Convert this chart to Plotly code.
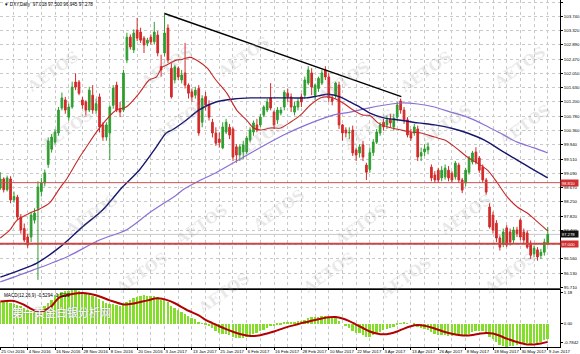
import pandas as pd
import plotly.graph_objects as go

# ---------------- data ----------------
holidays = ["2016-12-26", "2017-01-02", "2017-04-14"]
dates = [d for d in pd.bdate_range("2016-10-25", "2017-06-09")
         if d.strftime("%Y-%m-%d") not in holidays]
bar_idx = list(range(len(dates)))

opens = [98.65, 98.92, 98.60, 98.92, 98.30, 98.38, 97.79, 97.45, 97.20, 97.20,
         97.70, 98.05, 98.55, 98.80, 99.35, 99.80, 100.01, 100.28, 101.02, 101.26,
         100.75, 101.05, 101.79, 101.79, 101.26, 101.20, 100.96, 101.40, 100.95, 101.35,
         100.52, 100.16, 100.28, 101.10, 101.70, 101.00, 100.96, 102.44, 103.12, 102.74,
         103.33, 103.27, 103.09, 102.94, 103.12, 102.98, 103.18, 102.25, 102.65, 103.39,
         102.20, 101.85, 102.20, 101.85, 102.06, 101.70, 101.50, 101.40, 101.60, 100.60,
         101.36, 101.11, 100.60, 100.28, 100.10, 99.84, 100.31, 100.45, 100.40, 99.87,
         99.63, 99.72, 99.72, 100.07, 100.31, 100.52, 100.52, 100.81, 100.96, 101.32,
         100.90, 100.67, 100.87, 101.05, 101.46, 101.35, 100.90, 101.05, 101.35, 101.40,
         101.76, 102.06, 101.40, 101.60, 101.76, 102.15, 101.94, 101.30, 101.40, 101.70,
         100.52, 100.37, 100.28, 100.37, 99.78, 99.69, 99.93, 99.33, 99.20, 99.70,
         100.01, 100.28, 100.60, 100.52, 100.70, 100.46, 100.75, 101.23, 100.96, 100.67,
         100.28, 100.28, 100.40, 99.60, 99.72, 99.78, 99.27, 99.04, 99.18, 98.95,
         98.98, 99.18, 99.09, 98.98, 99.33, 98.89, 98.80, 99.12, 99.42, 99.72,
         99.54, 99.27, 98.89, 98.09, 97.85, 97.61, 97.17, 96.98, 97.47, 97.35,
         97.11, 97.41, 97.70, 97.35, 97.32, 97.02, 96.70, 96.82, 96.65, 96.75,
         97.02]
highs = [99.12, 98.97, 99.02, 99.00, 98.55, 98.45, 97.88, 97.60, 97.30, 97.95,
         98.05, 98.85, 98.95, 99.20, 100.15, 100.25, 100.40, 101.05, 101.48, 101.35,
         101.15, 101.80, 102.05, 101.85, 101.35, 101.25, 101.65, 101.70, 101.30, 101.45,
         100.60, 100.60, 101.10, 101.70, 101.80, 101.20, 102.15, 103.25, 103.20, 103.35,
         103.69, 103.40, 103.15, 103.10, 103.20, 103.57, 103.30, 102.60, 103.82, 103.50,
         102.35, 102.30, 102.25, 102.15, 102.95, 101.75, 101.60, 101.65, 101.70, 101.40,
         101.50, 101.25, 100.70, 100.45, 100.30, 100.60, 100.70, 100.55, 100.45, 99.95,
         99.95, 100.05, 100.20, 100.45, 100.65, 100.70, 100.85, 101.10, 101.30, 101.76,
         100.95, 101.05, 101.05, 101.55, 101.60, 101.45, 101.20, 101.30, 101.45, 101.95,
         102.26, 102.20, 101.75, 101.95, 102.15, 102.26, 102.05, 101.40, 101.80, 101.80,
         100.55, 100.45, 100.45, 100.50, 99.85, 99.95, 100.05, 99.40, 99.85, 100.10,
         100.40, 100.60, 100.70, 100.80, 100.85, 100.85, 101.20, 101.30, 101.05, 100.75,
         100.40, 100.55, 100.50, 99.85, 99.95, 100.00, 99.35, 99.15, 99.25, 99.30,
         99.35, 99.30, 99.15, 99.45, 99.40, 98.95, 99.25, 99.60, 99.75, 99.86,
         99.60, 99.35, 98.95, 98.20, 97.95, 97.70, 97.25, 97.45, 97.55, 97.45,
         97.50, 97.50, 97.75, 97.45, 97.40, 97.10, 96.95, 96.90, 96.85, 97.15,
         97.50]
lows = [98.60, 98.52, 98.55, 98.20, 98.22, 97.70, 97.30, 97.05, 96.88, 97.05,
        97.60, 95.93, 98.40, 98.70, 99.25, 99.70, 99.95, 100.20, 100.95, 100.85,
        100.65, 101.00, 101.55, 101.40, 101.00, 100.80, 100.90, 100.85, 100.85, 100.30,
        100.05, 100.05, 99.48, 101.00, 100.90, 100.75, 100.90, 102.35, 102.75, 102.65,
        103.00, 102.95, 102.65, 102.85, 102.90, 102.90, 102.55, 101.95, 102.55, 102.35,
        101.30, 101.75, 101.85, 101.75, 101.60, 101.30, 101.20, 101.30, 100.20, 100.45,
        100.95, 100.65, 100.15, 99.90, 99.85, 99.80, 100.25, 100.10, 99.45, 99.40,
        99.45, 99.50, 99.65, 100.00, 100.20, 100.30, 100.45, 100.75, 100.90, 100.95,
        100.40, 100.55, 100.80, 100.95, 101.20, 100.90, 100.80, 100.95, 101.05, 101.30,
        101.70, 101.40, 101.25, 101.50, 101.70, 101.85, 101.20, 101.10, 101.30, 100.40,
        100.05, 100.15, 100.10, 99.60, 99.45, 99.55, 99.45, 98.89, 99.10, 99.60,
        99.95, 100.20, 100.35, 100.40, 100.45, 100.35, 100.65, 100.85, 100.55, 100.15,
        100.05, 100.20, 99.45, 99.45, 99.60, 99.65, 98.85, 98.80, 98.80, 98.85,
        98.90, 98.85, 98.80, 98.90, 98.80, 98.50, 98.70, 99.05, 99.35, 99.35,
        99.10, 98.80, 98.45, 97.45, 97.30, 97.05, 96.80, 96.90, 96.90, 96.95,
        97.00, 97.20, 97.10, 97.00, 96.85, 96.55, 96.60, 96.50, 96.55, 96.65,
        96.95]
closes = [98.92, 98.60, 98.95, 98.30, 98.40, 97.79, 97.41, 97.11, 96.96, 97.85,
          97.91, 98.68, 98.80, 99.10, 100.05, 100.16, 100.31, 100.96, 101.32, 100.96,
          101.05, 101.64, 101.64, 101.46, 101.11, 100.96, 101.55, 100.96, 101.15, 100.46,
          100.16, 100.52, 101.05, 101.61, 100.96, 100.90, 102.06, 103.12, 102.83, 103.24,
          103.09, 103.03, 102.89, 103.03, 102.98, 103.27, 102.65, 102.15, 103.24, 102.44,
          101.35, 102.24, 101.94, 102.00, 101.70, 101.46, 101.35, 101.55, 100.28, 101.30,
          101.11, 100.75, 100.28, 99.98, 100.00, 100.46, 100.60, 100.22, 99.57, 99.63,
          99.87, 99.93, 100.13, 100.37, 100.58, 100.37, 100.75, 101.05, 101.20, 101.02,
          100.52, 100.96, 100.96, 101.49, 101.35, 101.05, 101.08, 101.22, 101.20, 101.85,
          102.15, 101.64, 101.70, 101.90, 102.06, 101.94, 101.32, 101.22, 101.76, 100.52,
          100.28, 100.28, 100.30, 99.69, 99.63, 99.87, 99.57, 99.12, 99.70, 100.01,
          100.31, 100.52, 100.46, 100.67, 100.58, 100.72, 101.11, 100.96, 100.67, 100.22,
          100.13, 100.46, 99.57, 99.70, 99.81, 99.87, 98.95, 98.89, 98.89, 99.18,
          99.24, 98.95, 98.89, 99.39, 98.89, 98.59, 99.18, 99.54, 99.69, 99.42,
          99.18, 98.89, 98.53, 97.50, 97.41, 97.17, 96.90, 97.35, 96.96, 97.05,
          97.41, 97.30, 97.20, 97.11, 96.90, 96.66, 96.87, 96.61, 96.75, 97.05,
          97.28]

# moving averages (read at sampled bars)
ma_red_x = [0, 2.8, 4.9, 8.6, 11.5, 14.4, 17.4, 19.4, 23.2, 24.6, 29.0, 33.9, 36.8, 40.6,
            43.5, 45.6, 47.3, 48.5, 51.4, 53.1, 55.5, 58.0, 60.5, 63.0, 66.2, 69.1, 72.0,
            74.0, 76.1, 79.0, 81.9, 84.8, 87.7, 90.6, 93.5, 95.3, 97.3, 100.2, 103.1, 106.0,
            108.0, 110.4, 113.3, 117.1, 120.0, 122.9, 126.9, 129.9, 132.8, 136.5, 139.4,
            142.4, 145.3, 148.2, 151.1, 154.0, 157.0, 160]
ma_red_y = [97.17, 97.41, 97.70, 97.91, 98.03, 98.21, 98.65, 98.92, 99.57, 99.78, 100.43,
            100.96, 101.05, 101.46, 101.85, 101.94, 102.23, 102.29, 102.44, 102.46, 102.52,
            102.40, 102.20, 101.85, 101.46, 100.96, 100.66, 100.43, 100.37, 100.43, 100.43,
            100.60, 100.81, 101.11, 101.32, 101.35, 101.32, 101.17, 100.96, 100.81, 100.80,
            100.58, 100.46, 100.37, 100.31, 100.28, 100.16, 100.07, 99.87, 99.57, 99.39,
            99.18, 98.80, 98.38, 98.09, 97.91, 97.65, 97.38]
ma_navy_x = [0, 5.7, 10.7, 17.4, 24.0, 29.9, 35.7, 40.6, 45.0, 48.5, 50.2, 54.3, 58.0, 63.0,
             68.2, 73.2, 79.0, 84.8, 89.4, 92.9, 95.8, 99.3, 102.2, 105.1, 108.0, 112.4,
             117.1, 122.0, 126.9, 131.6, 136.5, 141.5, 146.1, 151.1, 156.0, 160]
ma_navy_y = [96.01, 96.22, 96.43, 96.90, 97.50, 98.00, 98.68, 99.18, 99.78, 100.28, 100.37,
             100.66, 100.96, 101.20, 101.29, 101.32, 101.32, 101.32, 101.32, 101.38, 101.43,
             101.35, 101.20, 101.05, 100.87, 100.72, 100.66, 100.58, 100.52, 100.43, 100.28,
             100.07, 99.78, 99.48, 99.18, 98.95]
ma_purple_x = [0, 9.5, 19.4, 29.0, 36.8, 43.5, 51.4, 53.7, 58.0, 63.3, 73.2, 82.8, 89.4,
               97.3, 102.2, 107.5, 112.4, 117.1, 122.0, 126.9, 131.6, 136.5, 141.5, 146.1,
               151.1, 156.0, 160]
ma_purple_y = [95.87, 96.22, 96.61, 97.11, 97.41, 97.91, 98.44, 98.62, 98.86, 99.12, 99.69,
               100.22, 100.52, 100.81, 100.90, 101.02, 101.11, 101.17, 101.14, 101.05, 100.90,
               100.75, 100.52, 100.28, 100.01, 99.84, 99.69]

# trend line and horizontal levels
trend_x = [48, 117.2]
trend_y = [103.82, 101.36]
level_thin = 98.81
level_thick = 97.00
last_price = 97.278

# MACD(12,26,9)
macd_main = [0.78, 0.77, 0.76, 0.72, 0.70, 0.66, 0.61, 0.55, 0.49, 0.46,
             0.43, 0.44, 0.52, 0.62, 0.74, 0.85, 0.96, 1.05, 1.12, 1.14,
             1.16, 1.18, 1.17, 1.15, 1.12, 1.06, 1.02, 0.98, 0.93, 0.88,
             0.80, 0.74, 0.71, 0.70, 0.66, 0.64, 0.68, 0.76, 0.84, 0.90,
             0.95, 0.98, 0.99, 0.98, 0.97, 0.96, 0.92, 0.84, 0.82, 0.76,
             0.64, 0.56, 0.48, 0.40, 0.34, 0.28, 0.22, 0.16, 0.06, 0.03,
             -0.02, -0.08, -0.15, -0.25, -0.32, -0.35, -0.36, -0.38, -0.45, -0.48,
             -0.50, -0.48, -0.46, -0.42, -0.36, -0.32, -0.26, -0.20, -0.13, -0.08,
             -0.08, -0.05, -0.02, 0.04, 0.07, 0.08, 0.08, 0.09, 0.10, 0.15,
             0.22, 0.24, 0.24, 0.25, 0.27, 0.28, 0.24, 0.20, 0.20, 0.10,
             0.00, -0.08, -0.14, -0.24, -0.30, -0.33, -0.37, -0.45, -0.44, -0.40,
             -0.34, -0.28, -0.22, -0.17, -0.13, -0.09, -0.02, 0.03, 0.04, 0.02,
             0.00, -0.02, -0.10, -0.15, -0.18, -0.20, -0.28, -0.34, -0.38, -0.40,
             -0.40, -0.41, -0.42, -0.40, -0.40, -0.43, -0.41, -0.35, -0.28, -0.24,
             -0.23, -0.26, -0.32, -0.44, -0.53, -0.63, -0.72, -0.76, -0.784, -0.77,
             -0.75, -0.73, -0.70, -0.68, -0.67, -0.69, -0.67, -0.65, -0.61, -0.57,
             -0.5294]
signal_x = [0, 4, 7, 10, 12, 15, 17, 21, 25, 28, 32, 36, 39, 43, 46, 49, 51, 55, 58, 60,
            62, 64, 66, 68, 70, 72, 74, 76, 78, 80, 82, 84, 86, 88, 90, 92, 94, 96, 98,
            100, 102, 104, 106, 108, 110, 112, 114, 116, 118, 120, 122, 124, 126, 128,
            130, 132, 134, 136, 138, 140, 142, 144, 146, 148, 150, 152, 154, 156, 158, 160]
signal_y = [0.78, 0.80, 0.66, 0.47, 0.43, 0.62, 0.90, 1.04, 1.07, 1.00, 0.82, 0.68, 0.71,
            0.82, 0.89, 0.82, 0.72, 0.46, 0.30, 0.14, 0.03, -0.08, -0.18, -0.27, -0.35,
            -0.40, -0.42, -0.39, -0.33, -0.26, -0.18, -0.10, -0.04, 0.03, 0.08, 0.14, 0.19,
            0.23, 0.24, 0.19, 0.10, -0.02, -0.14, -0.26, -0.33, -0.36, -0.33, -0.26, -0.16,
            -0.08, -0.04, -0.06, -0.12, -0.20, -0.28, -0.34, -0.38, -0.40, -0.38, -0.34,
            -0.31, -0.33, -0.41, -0.51, -0.59, -0.66, -0.71, -0.71, -0.68, -0.6229]

tick_idx = list(range(0, 161, 8))
tick_text = ["25 Oct 2016", "4 Nov 2016", "16 Nov 2016", "28 Nov 2016", "8 Dec 2016",
             "20 Dec 2016", "3 Jan 2017", "13 Jan 2017", "25 Jan 2017", "6 Feb 2017",
             "16 Feb 2017", "28 Feb 2017", "10 Mar 2017", "22 Mar 2017", "3 Apr 2017",
             "13 Apr 2017", "26 Apr 2017", "8 May 2017", "18 May 2017", "30 May 2017",
             "9 Jun 2017"]
price_ticks = [104.160, 103.740, 103.320, 102.890, 102.470, 102.050, 101.630, 101.200,
               100.780, 100.360, 99.940, 99.510, 99.090, 98.670, 98.250, 97.820, 97.400,
               96.980, 96.560, 96.130, 95.710]
price_tick_text = ["%.3f" % v for v in price_ticks]
price_tick_text[price_ticks.index(96.980)] = ""

assert len(opens) == len(highs) == len(lows) == len(closes) == len(macd_main) == len(dates)

# ---------------- figure ----------------
W, H = 580, 354
ML, MR, MT, MB = 0, 17, 0, 7
PH = H - MT - MB
main_dom = [1 - 288 / PH, 1]
macd_dom = [0, 1 - 290 / PH]
xr = [-0.09, 163.58]

GREEN = "#2f9e2f"
RED = "#d42a2a"
GRID = "#c9c9c9"
FONT = "Liberation Sans"

fig = go.Figure()
fig.add_trace(go.Candlestick(
    x=bar_idx, open=opens, high=highs, low=lows, close=closes,
    increasing=dict(line=dict(color=GREEN, width=1), fillcolor=GREEN),
    decreasing=dict(line=dict(color=RED, width=1), fillcolor=RED),
    whiskerwidth=0, xaxis="x", yaxis="y", hoverinfo="skip"))
fig.add_trace(go.Scatter(x=ma_purple_x, y=ma_purple_y, mode="lines",
                         line=dict(color="#8c6fd6", width=1.2, shape="spline", smoothing=0.8),
                         xaxis="x", yaxis="y"))
fig.add_trace(go.Scatter(x=ma_navy_x, y=ma_navy_y, mode="lines",
                         line=dict(color="#16166e", width=1.4, shape="spline", smoothing=0.8),
                         xaxis="x", yaxis="y"))
fig.add_trace(go.Scatter(x=ma_red_x, y=ma_red_y, mode="lines",
                         line=dict(color="#c62828", width=1.1, shape="spline", smoothing=0.8),
                         xaxis="x", yaxis="y"))
fig.add_trace(go.Scatter(x=trend_x, y=trend_y, mode="lines",
                         line=dict(color="black", width=1.4), xaxis="x", yaxis="y"))

fig.add_trace(go.Bar(x=bar_idx, y=macd_main, marker=dict(color="#84dd2a", line=dict(width=0)),
                     width=0.55, xaxis="x2", yaxis="y2"))
fig.add_trace(go.Scatter(x=signal_x, y=signal_y, mode="lines",
                         line=dict(color="#b30000", width=2, shape="spline", smoothing=0.8),
                         xaxis="x2", yaxis="y2"))

shapes = [
    dict(type="line", xref="x domain", x0=0, x1=1, yref="y", y0=last_price, y1=last_price,
         line=dict(color="#c8c8c8", width=1), layer="below"),
    dict(type="line", xref="x domain", x0=0, x1=1, yref="y", y0=level_thin, y1=level_thin,
         line=dict(color="#c85050", width=1)),
    dict(type="line", xref="x domain", x0=0, x1=1, yref="y", y0=level_thick, y1=level_thick,
         line=dict(color="#c84848", width=2)),
]

ann = []
# watermark tiles
wm_px = [(20, 45), (135, 40), (245, 30), (345, 55), (460, 45), (555, 40),
         (35, 130), (150, 120), (260, 140), (370, 130), (480, 125), (560, 125),
         (60, 215), (170, 225), (280, 210), (395, 225), (500, 215),
         (110, 300), (225, 320), (330, 300), (440, 305), (545, 300)]
for (px, py) in wm_px:
    ann.append(dict(xref="paper", yref="paper", x=px / (W - ML - MR), y=1 - py / PH,
                    text="<b>AETOS</b>", showarrow=False, textangle=-35,
                    font=dict(family="DejaVu Serif", size=15, color="rgba(150,150,150,0.22)")))
# header text
ann.append(dict(xref="paper", yref="paper", x=0.003, y=1, xanchor="left", yanchor="top",
                text="▼ DXY,Daily  97.018 97.500 96.945 97.278", showarrow=False,
                font=dict(family=FONT, size=4.6, color="black")))
ann.append(dict(xref="paper", yref="paper", x=0.003, y=macd_dom[1], xanchor="left", yanchor="top",
                text="MACD(12,26,9) -0.5294 -0.6229", showarrow=False, yshift=-1,
                font=dict(family=FONT, size=4.6, color="black")))
ann.append(dict(xref="paper", yref="paper", x=10 / (W - ML - MR), y=1 - 312 / PH,
                xanchor="left", yanchor="middle", text="第一黄金白银分析网", showarrow=False,
                font=dict(family="Noto Sans CJK SC", size=11, color="white",
                          shadow="0px 0px 2px #808080")))
# price boxes on the right
for val, col in [(level_thin, "#d03030"), (level_thick, "#d03030"), (last_price, "#111111")]:
    ann.append(dict(xref="paper", yref="y", x=1, y=val, xanchor="left", yanchor="middle",
                    text="%.3f" % val, showarrow=False, bgcolor=col, borderpad=0.6, width=16,
                    align="left", font=dict(family=FONT, size=4.3, color="white")))

axis_font = dict(family=FONT, size=4.3, color="black")
fig.update_layout(
    width=W, height=H, margin=dict(l=ML, r=MR, t=MT, b=MB),
    paper_bgcolor="white", plot_bgcolor="white", showlegend=False,
    bargap=0, shapes=shapes, annotations=ann,
    xaxis=dict(domain=[0, 1], anchor="y", range=xr, tickvals=tick_idx, showticklabels=False,
               ticks="", showgrid=True, gridcolor=GRID, griddash="dot", gridwidth=1,
               minor=dict(dtick=4, tick0=0, showgrid=True, gridcolor=GRID, griddash="dot"),
               zeroline=False, showline=True, linecolor="#505050", linewidth=1,
               rangeslider=dict(visible=False), fixedrange=True),
    yaxis=dict(domain=main_dom, anchor="x", side="right", range=[95.69, 104.22],
               tickvals=price_ticks, ticktext=price_tick_text, tickfont=axis_font,
               ticks="outside", ticklen=2, tickcolor="black", showgrid=True, gridcolor=GRID,
               griddash="dot", zeroline=False, showline=True, linecolor="black", linewidth=1),
    xaxis2=dict(domain=[0, 1], anchor="y2", range=xr, tickvals=tick_idx, ticktext=tick_text,
                ticklabelposition="outside right", tickangle=0, tickfont=axis_font,
                ticks="outside", ticklen=2, tickcolor="black",
                showgrid=True, gridcolor=GRID, griddash="dot", gridwidth=1,
                minor=dict(dtick=4, tick0=0, showgrid=True, gridcolor=GRID, griddash="dot"),
                zeroline=False, showline=True, mirror=True, linecolor="black", linewidth=1),
    yaxis2=dict(domain=macd_dom, anchor="x2", side="right", range=[-0.80, 1.18],
                tickvals=[1.10, 0.0, -0.66], ticktext=["1.18", "0.00", "-0.7842"],
                tickfont=axis_font, ticks="outside", ticklen=2, tickcolor="black",
                showgrid=False, zeroline=False, showline=True, linecolor="black", linewidth=1),
)

fig.write_html("out.html")
